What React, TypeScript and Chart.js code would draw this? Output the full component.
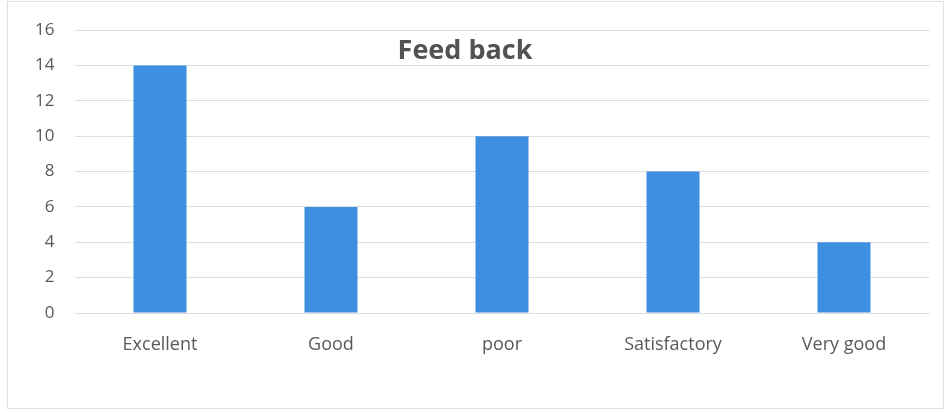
import React, { useEffect, useRef } from "react";
import { Chart, registerables } from "chart.js";

Chart.register(...registerables);

const categories = ["Excellent", "Good", "poor", "Satisfactory", "Very good"];
const values = [14, 6, 10, 8, 4];
const yTicks = [0, 2, 4, 6, 8, 10, 12, 14, 16];
const titleText = "Feed back";

const FONT = "'Open Sans', 'Liberation Sans', sans-serif";
const TEXT = "#595959";

const overlayTitle = {
  id: "overlayTitle",
  afterDraw(chart: any) {
    const ctx = chart.ctx;
    ctx.save();
    ctx.font = `bold 27px ${FONT}`;
    ctx.fillStyle = "#525252";
    ctx.textAlign = "center";
    ctx.textBaseline = "middle";
    ctx.fillText(titleText, 465, 51);
    ctx.restore();
  },
};

export default function App() {
  const ref = useRef<HTMLCanvasElement>(null);
  useEffect(() => {
    document.body.style.margin = "0";
    const chart = new Chart(ref.current!, {
      type: "bar",
      data: {
        labels: categories,
        datasets: [
          {
            data: values,
            backgroundColor: "#3f8fe0",
            categoryPercentage: 1,
            barPercentage: 0.31,
          },
        ],
      },
      plugins: [overlayTitle],
      options: {
        animation: false,
        responsive: false,
        devicePixelRatio: 1,
        layout: { padding: { left: 0, right: 17.5, top: 20, bottom: 39 } },
        plugins: { legend: { display: false }, tooltip: { enabled: false }, title: { display: false } },
        scales: {
          x: {
            grid: { display: false, drawTicks: false },
            border: { display: false },
            ticks: { color: TEXT, font: { family: FONT, size: 18 }, padding: 21 },
            afterFit: (s: any) => { s.height = 60; },
          },
          y: {
            min: 0,
            max: 16,
            afterBuildTicks: (s: any) => { s.ticks = yTicks.map((v) => ({ value: v })); },
            grid: { color: "#dddddd", lineWidth: 1, drawTicks: false },
            border: { display: false },
            ticks: { color: TEXT, font: { family: FONT, size: 17 }, padding: 20 },
            afterFit: (s: any) => { s.width = 74.5; },
          },
        },
      },
    });
    return () => chart.destroy();
  }, []);
  return (
    <div style={{ position: "fixed", left: 0, top: 0, width: 947, height: 412, background: "#fff" }}>
      <div style={{ position: "absolute", left: 7, top: 1, width: 935, height: 406, border: "1px solid #e0e0e0" }} />
      <canvas ref={ref} width={947} height={412} style={{ position: "absolute", left: 0, top: 0 }} />
    </div>
  );
}
